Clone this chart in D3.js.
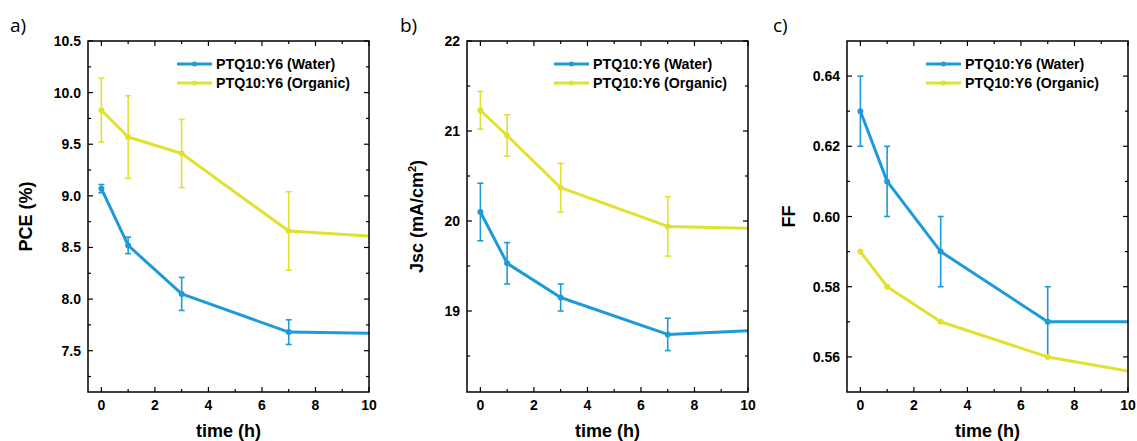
<!DOCTYPE html>
<html>
<head>
<meta charset="utf-8">
<script src="https://cdn.jsdelivr.net/npm/d3@7"></script>
<style>
  html, body { margin: 0; padding: 0; background: #fff; }
  svg { display: block; }
  .tick-label, .axis-title, .legend-text { font-family: "Liberation Sans", Arial, sans-serif; font-weight: bold; fill: #000; }
  .panel-letter { font-family: "Open Sans", "Noto Sans", sans-serif; font-weight: normal; fill: #000; }
</style>
</head>
<body>
<svg id="chart" width="1137" height="441"></svg>
<script>
// ---------- data ----------
const times = [0, 1, 3, 7, 10];
const seriesNames = ["PTQ10:Y6 (Water)", "PTQ10:Y6 (Organic)"];

const pceWater      = [9.07, 8.52, 8.05, 7.68, 7.67];
const pceWaterErr   = [0.04, 0.08, 0.16, 0.12, 0];
const pceOrganic    = [9.83, 9.57, 9.41, 8.66, 8.61];
const pceOrganicErr = [0.31, 0.40, 0.33, 0.38, 0];

const jscWater      = [20.10, 19.53, 19.15, 18.74, 18.78];
const jscWaterErr   = [0.32, 0.23, 0.15, 0.18, 0];
const jscOrganic    = [21.23, 20.95, 20.37, 19.94, 19.92];
const jscOrganicErr = [0.21, 0.23, 0.27, 0.33, 0];

const ffWater       = [0.63, 0.61, 0.59, 0.57, 0.57];
const ffWaterErr    = [0.01, 0.01, 0.01, 0.01, 0];
const ffOrganic     = [0.59, 0.58, 0.57, 0.56, 0.556];
const ffOrganicErr  = [0, 0, 0, 0, 0];

const xTicks = [0, 2, 4, 6, 8, 10];
const pceTicks = [7.5, 8.0, 8.5, 9.0, 9.5, 10.0, 10.5];
const jscTicks = [19, 20, 21, 22];
const ffTicks  = [0.56, 0.58, 0.60, 0.62, 0.64];

const colors = ["#1e9bd7", "#e1e132"];

// ---------- layout ----------
const panels = [
  { letter: "a)", letterX: 10, left: 88, right: 369, yDomain: [7.1, 10.5], yTicks: pceTicks, yMinorStep: 0.25, fmt: d3.format(".1f"),
    title: "PCE (%)", titleX: 26, legendX: 177, series: [[pceWater, pceWaterErr], [pceOrganic, pceOrganicErr]] },
  { letter: "b)", letterX: 400, left: 467, right: 748, yDomain: [18.1, 22], yTicks: jscTicks, yMinorStep: 0.5, fmt: d3.format("d"),
    title: "Jsc", titleX: 417, legendX: 554, series: [[jscWater, jscWaterErr], [jscOrganic, jscOrganicErr]] },
  { letter: "c)", letterX: 773, left: 847, right: 1128, yDomain: [0.55, 0.65], yTicks: ffTicks, yMinorStep: 0.01, fmt: d3.format(".2f"),
    title: "FF", titleX: 789, legendX: 926, series: [[ffWater, ffWaterErr], [ffOrganic, ffOrganicErr]] }
];
const plotTop = 41, plotBottom = 392;
const xDomain = [-0.5, 10];

const svg = d3.select("#chart");

panels.forEach((p, pi) => {
  const x = d3.scaleLinear().domain(xDomain).range([p.left, p.right]);
  const y = d3.scaleLinear().domain(p.yDomain).range([plotBottom, plotTop]);
  const g = svg.append("g");

  const clipId = "clip" + pi;
  svg.append("defs").append("clipPath").attr("id", clipId)
    .append("rect").attr("x", p.left).attr("y", plotTop).attr("width", p.right - p.left).attr("height", plotBottom - plotTop);

  // minor ticks
  const xMinor = d3.range(1, 10, 2);
  const yMinor = [];
  for (let v = p.yTicks[0] - p.yMinorStep; v > p.yDomain[0] + 1e-9; v -= p.yMinorStep) yMinor.push(v);
  for (let v = p.yTicks[0] + p.yMinorStep; v < p.yDomain[1] - 1e-9; v += p.yMinorStep) yMinor.push(v);
  const yMinorOnly = yMinor.filter(v => !p.yTicks.some(t => Math.abs(t - v) < 1e-9));

  const majorLen = 5, minorLen = 3;
  const tickG = g.append("g").attr("stroke", "#000").attr("stroke-width", 1.2);
  xTicks.forEach(t => {
    tickG.append("line").attr("x1", x(t)).attr("x2", x(t)).attr("y1", plotBottom).attr("y2", plotBottom - majorLen);
    tickG.append("line").attr("x1", x(t)).attr("x2", x(t)).attr("y1", plotTop).attr("y2", plotTop + majorLen);
  });
  xMinor.forEach(t => {
    tickG.append("line").attr("x1", x(t)).attr("x2", x(t)).attr("y1", plotBottom).attr("y2", plotBottom - minorLen);
    tickG.append("line").attr("x1", x(t)).attr("x2", x(t)).attr("y1", plotTop).attr("y2", plotTop + minorLen);
  });
  p.yTicks.forEach(t => {
    tickG.append("line").attr("x1", p.left).attr("x2", p.left + majorLen).attr("y1", y(t)).attr("y2", y(t));
    tickG.append("line").attr("x1", p.right).attr("x2", p.right - majorLen).attr("y1", y(t)).attr("y2", y(t));
  });
  yMinorOnly.forEach(t => {
    tickG.append("line").attr("x1", p.left).attr("x2", p.left + minorLen).attr("y1", y(t)).attr("y2", y(t));
    tickG.append("line").attr("x1", p.right).attr("x2", p.right - minorLen).attr("y1", y(t)).attr("y2", y(t));
  });

  // tick labels
  xTicks.forEach(t => {
    g.append("text").attr("class", "tick-label").attr("x", x(t)).attr("y", 410)
      .attr("text-anchor", "middle").attr("font-size", 14).text(t);
  });
  p.yTicks.forEach(t => {
    g.append("text").attr("class", "tick-label").attr("x", p.left - 7).attr("y", y(t) + 5)
      .attr("text-anchor", "end").attr("font-size", 14).text(p.fmt(t));
  });

  // series
  const lineGen = d3.line().x(d => x(d.t)).y(d => y(d.v));
  const dataG = g.append("g").attr("clip-path", `url(#${clipId})`);
  p.series.forEach(([vals, errs], si) => {
    const pts = times.map((t, i) => ({ t, v: vals[i], e: errs[i] }));
    dataG.append("path").datum(pts).attr("fill", "none").attr("stroke", colors[si])
      .attr("stroke-width", 3).attr("stroke-linejoin", "round").attr("d", lineGen);
    pts.filter(d => d.e > 0).forEach(d => {
      const eg = dataG.append("g").attr("stroke", colors[si]).attr("stroke-width", 1.6);
      eg.append("line").attr("x1", x(d.t)).attr("x2", x(d.t)).attr("y1", y(d.v - d.e)).attr("y2", y(d.v + d.e));
      eg.append("line").attr("x1", x(d.t) - 3).attr("x2", x(d.t) + 3).attr("y1", y(d.v - d.e)).attr("y2", y(d.v - d.e));
      eg.append("line").attr("x1", x(d.t) - 3).attr("x2", x(d.t) + 3).attr("y1", y(d.v + d.e)).attr("y2", y(d.v + d.e));
    });
    dataG.selectAll(null).data(pts.filter(d => d.t < xDomain[1])).enter().append("circle")
      .attr("cx", d => x(d.t)).attr("cy", d => y(d.v)).attr("r", 3).attr("fill", colors[si]);
  });

  // frame
  g.append("rect").attr("x", p.left).attr("y", plotTop).attr("width", p.right - p.left).attr("height", plotBottom - plotTop)
    .attr("fill", "none").attr("stroke", "#000").attr("stroke-width", 1.5);

  // legend
  seriesNames.forEach((name, si) => {
    const ly = 64 + si * 19;
    g.append("line").attr("x1", p.legendX).attr("x2", p.legendX + 35).attr("y1", ly).attr("y2", ly)
      .attr("stroke", colors[si]).attr("stroke-width", 3);
    g.append("circle").attr("cx", p.legendX + 17.5).attr("cy", ly).attr("r", 2.5).attr("fill", colors[si]);
    g.append("text").attr("class", "legend-text").attr("x", p.legendX + 39).attr("y", ly + 5)
      .attr("font-size", 14.2).text(name);
  });

  // x title
  g.append("text").attr("class", "axis-title").attr("x", (p.left + p.right) / 2).attr("y", 437)
    .attr("text-anchor", "middle").attr("font-size", 18).text("time (h)");

  // y title
  const yt = g.append("text").attr("class", "axis-title")
    .attr("transform", `translate(${p.titleX + 6},${(plotTop + plotBottom) / 2}) rotate(-90)`)
    .attr("text-anchor", "middle").attr("font-size", 18);
  if (p.title === "Jsc") {
    yt.append("tspan").text("Jsc (mA/cm");
    yt.append("tspan").attr("dy", -7).attr("font-size", 11).text("2");
    yt.append("tspan").attr("dy", 7).text(")");
  } else {
    yt.text(p.title);
  }

  // panel letter
  g.append("text").attr("class", "panel-letter").attr("x", p.letterX).attr("y", 32)
    .attr("font-size", 19).text(p.letter);
});
</script>
</body>
</html>
